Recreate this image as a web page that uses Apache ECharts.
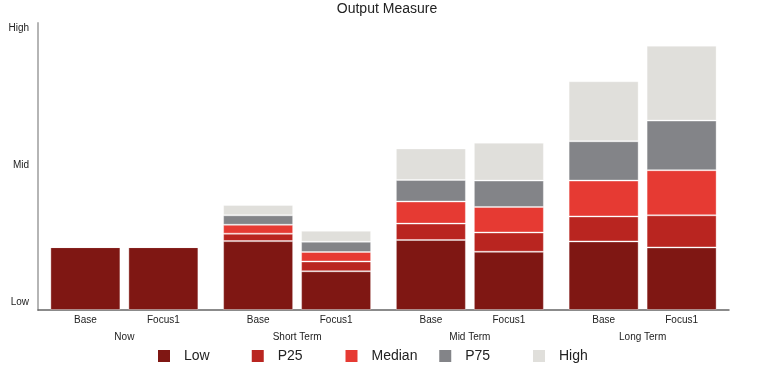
<!DOCTYPE html>
<html>
<head>
<meta charset="utf-8">
<script src="https://cdn.jsdelivr.net/npm/echarts@6/dist/echarts.min.js"></script>
<style>html,body{margin:0;padding:0;background:#fff}#c{width:774px;height:369px}</style>
</head>
<body>
<div id="c"></div>
<script>
// Data
var periods = ['Now', 'Short Term', 'Mid Term', 'Long Term'];
var scenarios = ['Base', 'Focus1'];
var levels = ['Low', 'P25', 'Median', 'P75', 'High'];
var yTickValues = [2.8, 50.5, 98.3];
var yTickLabels = ['Low', 'Mid', 'High'];
// stacked increments per level, per period
var baseLow    = [21.9, 24.0, 24.4, 23.9];
var baseP25    = [0,    2.6,  5.7,  8.7];
var baseMedian = [0,    3.1,  7.7,  12.5];
var baseP75    = [0,    3.3,  7.5,  13.7];
var baseHigh   = [0,    3.6,  11.0, 20.9];
var focusLow    = [21.9, 13.5, 20.3, 21.8];
var focusP25    = [0,    3.4,  6.7,  11.2];
var focusMedian = [0,    3.3,  8.9,  15.7];
var focusP75    = [0,    3.6,  9.2,  17.3];
var focusHigh   = [0,    3.8,  13.2, 26.1];

var colors = ['#7f1713', '#b92520', '#e63a33', '#838488', '#e0dfdb'];
var baseData = [baseLow, baseP25, baseMedian, baseP75, baseHigh];
var focusData = [focusLow, focusP25, focusMedian, focusP75, focusHigh];

var series = [];
[baseData, focusData].forEach(function (set, si) {
  set.forEach(function (vals, li) {
    series.push({
      type: 'bar',
      name: levels[li],
      stack: scenarios[si],
      data: vals,
      barWidth: 70,
      barGap: '11.4%',
      itemStyle: { color: colors[li], borderColor: 'rgba(255,255,255,0.35)', borderWidth: 1 },
      emphasis: { disabled: true }
    });
  });
});

var legends = levels.map(function (name, i) {
  return {
    data: [name],
    left: 153 + i * 93.75, top: 344,
    itemWidth: 12, itemHeight: 12,
    icon: 'rect',
    itemStyle: { borderWidth: 0 },
    formatter: '{t|{name}}',
    textStyle: {
      rich: { t: { fontFamily: 'Liberation Sans, Arial', fontSize: 14, color: '#222', padding: [0, 0, 0, 9] } }
    }
  };
});

var chart = echarts.init(document.getElementById('c'));
chart.setOption({
  animation: false,
  color: colors,
  title: {
    text: 'Output Measure', left: 'center', top: -3,
    textStyle: { fontFamily: 'Liberation Sans, Arial', fontSize: 14, fontWeight: 'normal', color: '#222' }
  },
  legend: legends,
  grid: { left: 38, right: 45, top: 23, bottom: 59 },
  xAxis: {
    type: 'category',
    data: periods,
    axisLine: { lineStyle: { color: '#666', width: 1.5 } },
    axisTick: { show: false },
    axisLabel: {
      margin: 3,
      interval: 0,
      formatter: function (v) {
        return '{a|' + scenarios[0] + '}{a|' + scenarios[1] + '}\n{g|' + v + '}';
      },
      rich: {
        a: { width: 78, align: 'center', fontSize: 10, lineHeight: 14, color: '#222', fontFamily: 'Liberation Sans, Arial' },
        g: { width: 156, align: 'center', fontSize: 10, lineHeight: 21, color: '#222', fontFamily: 'Liberation Sans, Arial' }
      }
    }
  },
  yAxis: {
    type: 'value', min: 0, max: 100,
    axisLine: { show: true, lineStyle: { color: '#b5b5b5', width: 2 } },
    axisTick: { show: false },
    splitLine: { show: false },
    axisLabel: {
      customValues: yTickValues,
      margin: 9,
      fontSize: 10, color: '#222', fontFamily: 'Liberation Sans, Arial',
      formatter: function (v) {
        var best = 0;
        for (var i = 0; i < yTickValues.length; i++) {
          if (Math.abs(yTickValues[i] - v) < Math.abs(yTickValues[best] - v)) best = i;
        }
        return yTickLabels[best];
      }
    }
  },
  series: series
});
</script>
</body>
</html>
